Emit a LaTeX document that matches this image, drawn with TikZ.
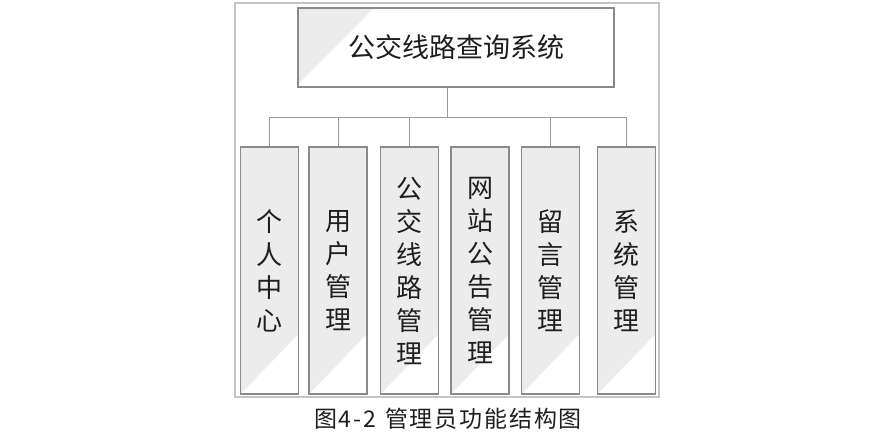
\documentclass[tikz,border=0pt]{standalone}
\usepackage{fontspec}
\setmainfont{Noto Sans CJK SC}
\usetikzlibrary{calc}
\definecolor{boxgray}{HTML}{ECECEC}
\definecolor{edgegray}{HTML}{8A8A8A}
\definecolor{framegray}{HTML}{C4C4C4}
\definecolor{linegray}{HTML}{9A9A9A}
\definecolor{inkgray}{HTML}{1E1E1E}
\begin{document}
\begin{tikzpicture}[x=1pt,y=-1pt,
  topbox/.style={draw=edgegray, line width=1.1pt, fill=white, inner sep=0pt,
    minimum width=316pt, minimum height=79pt, text=inkgray,
    font=\fontsize{27}{32}\selectfont,
    path picture={\fill[boxgray] (path picture bounding box.north west) -- ++(76,0) -- ($(path picture bounding box.north west)+(0,76)$) -- cycle;}},
  modbox/.style={draw=edgegray, line width=1.1pt, fill=white, inner sep=0pt,
    minimum width=58pt, minimum height=247pt, align=center, text=inkgray,
    font=\fontsize{26}{33}\selectfont,
    path picture={\fill[boxgray] (path picture bounding box.north west) -- (path picture bounding box.north east) -- ($(path picture bounding box.south east)+(0,-60)$) -- (path picture bounding box.south west) -- cycle;}},
  conn/.style={draw=linegray, line width=0.9pt},
  frame/.style={draw=framegray, line width=1.4pt}
]
\useasboundingbox (0,0) rectangle (896,431);
\draw[frame] (235,3) rectangle (659,397);
\node[topbox] (top) at (456,47.5) {公交线路查询系统};
\node[modbox] (m1) at (269.5,270.5) {个\\人\\中\\心};
\node[modbox] (m2) at (338,270.5) {用\\户\\管\\理};
\node[modbox] (m3) at (409.5,270.5) {公\\交\\线\\路\\管\\理};
\node[modbox] (m4) at (480,270.5) {网\\站\\公\\告\\管\\理};
\node[modbox] (m5) at (550.5,270.5) {留\\言\\管\\理};
\node[modbox] (m6) at (626.5,270.5) {系\\统\\管\\理};
\coordinate (hub) at (447,117);
\coordinate (busL) at (m1.north |- hub);
\coordinate (busR) at (m6.north |- hub);
\draw[conn] (hub) -- (hub |- top.south);
\draw[conn] (busL) -- (busR);
\draw[conn] (busL) -- (m1.north);
\draw[conn] (m2.north |- hub) -- (m2.north);
\draw[conn] (m3.north |- hub) -- (m3.north);
\draw[conn] (m5.north |- hub) -- (m5.north);
\draw[conn] (busR) -- (m6.north);
\node[font=\fontsize{23}{28}\selectfont\addfontfeature{LetterSpace=8}, text=inkgray] (cap) at (448,419) {图4-2\hspace{9pt}管理员功能结构图};
\end{tikzpicture}
\end{document}
